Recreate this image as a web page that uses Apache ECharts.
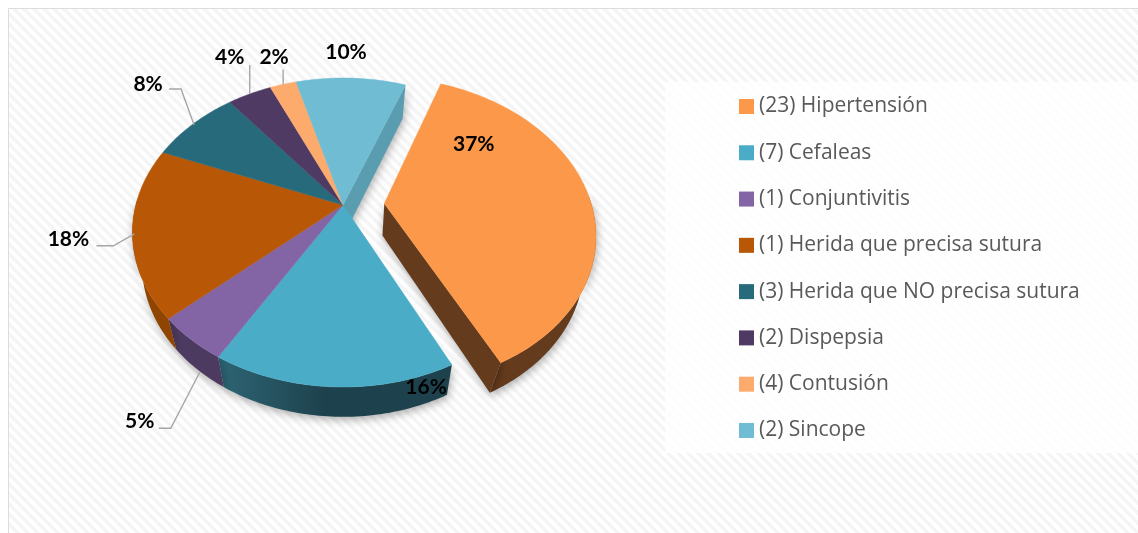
<!DOCTYPE html>
<html><head><meta charset="utf-8">
<style>html,body{margin:0;padding:0;background:#fff}#c{width:1138px;height:533px}</style>
<script src="https://cdn.jsdelivr.net/npm/echarts@6/dist/echarts.min.js"></script>
</head><body><div id="c"></div>
<script>
// ---- data ----
const categories = ['(23) Hipertensión','(7) Cefaleas','(1) Conjuntivitis','(1) Herida que precisa sutura','(3) Herida que NO precisa sutura','(2) Dispepsia','(4) Contusión','(2) Sincope'];
const shares = [37, 15.8, 4.8, 17.8, 8.2, 4, 2.4, 10];
const labels = ['37%','16%','5%','18%','8%','4%','2%','10%'];
const colors = ['#fb9849','#4aacc7','#8364a5','#b85706','#276a7c','#4f3a63','#fdaa6d','#6fbcd3'];
const wallColors = ['#653b1d',['#2d6575','#1e424d'],'#4d3a60','#8f4500',null,null,null,'#5a9db0'];
const exploded = [0.2,0,0,0,0,0,0,0];

// ---- layout ----
const startAngle = 20.6;
const view = {x0:343, y0:205, A:207.2, B:149.6, k:0.178};
const labelOffset = [[-115,-52],[93,0],[-51,82],[-64,7],[-45,-40],[-20,-37],[-9,-27],[-5,-26]];
const leaderOffset = [null,null,[[9,33],[-20,89],[-32,89]],[[2,2],[-19,14],[-36,14]],[[1,1],[-12,-35],[-24,-35]],[[0,0],[0,-29]],[[0,0],[0,-15]],null];

const rad = d => d*Math.PI/180;
function project(theta, r, ex, mid){
  let u = r*Math.sin(rad(theta)) + ex*Math.sin(rad(mid));
  let v = -r*Math.cos(rad(theta)) - ex*Math.cos(rad(mid));
  const w = 1 - view.k*v;
  return [view.x0 + view.A*u/w, view.y0 + view.B*v/w];
}
function lower(p, ex){
  const pull = ex ? 4*Math.max(0,p[1]-view.y0)/160 : 0;
  return [view.x0 + 0.955*(p[0]-view.x0) - pull, p[1] + 32 - 0.012*(p[1]-view.y0)];
}
const total = shares.reduce((a,b)=>a+b,0);
let acc = startAngle;
const spans = shares.map(s=>{const a=acc; acc+=s/total*360; return [a,acc];});
function rim(i, frontOnly){
  const [a,b]=spans[i], m=(a+b)/2, pts=[];
  const n=Math.ceil(b-a);
  for(let j=0;j<=n;j++){
    const t=a+(b-a)*j/n;
    if(frontOnly && -Math.cos(rad(t))<-0.05) continue;
    pts.push(project(t,1,exploded[i],m));
  }
  return pts;
}
function apex(i){const m=(spans[i][0]+spans[i][1])/2; return project(0,0,exploded[i],m);}
function fillOf(c){
  return Array.isArray(c)?{type:'linear',x:0,y:0,x2:1,y2:0,colorStops:[{offset:0,color:c[0]},{offset:0.45,color:c[1]},{offset:1,color:c[1]}]}:c;
}
const shadow={shadowBlur:8,shadowColor:'rgba(0,0,0,0.32)',shadowOffsetY:3,shadowOffsetX:1};

function renderWall(params,api){
  const kids=[];
  shares.forEach((_,i)=>{
    if(!wallColors[i]) return;
    const ex=exploded[i], r=rim(i,true), full=rim(i,false), ap=apex(i), fill=fillOf(wallColors[i]);
    if(r.length>1) kids.push({type:'polygon',shape:{points:r.concat(r.slice().reverse().map(p=>lower(p,ex)))},style:Object.assign({fill},shadow)});
    const e=spans[i][1]%360;
    if(e>0&&e<180){
      const p=full[full.length-1];
      kids.push({type:'polygon',shape:{points:[ap,p,lower(p,ex),lower(ap,ex)]},style:Object.assign({fill},shadow)});
    }
  });
  return {type:'group',children:kids};
}
function renderTop(i){
  return function(){
    return {type:'polygon',shape:{points:[apex(i)].concat(rim(i,false))},style:{fill:colors[i],stroke:colors[i],lineWidth:0.5}};
  };
}
function renderLabel(params){
  const i=params.dataIndex, m=(spans[i][0]+spans[i][1])/2, p=project(m,1,exploded[i],m), kids=[];
  if(leaderOffset[i]) kids.push({type:'polyline',shape:{points:leaderOffset[i].map(o=>[p[0]+o[0],p[1]+o[1]])},style:{fill:null,stroke:'#a6a6a6',lineWidth:1.4}});
  kids.push({type:'text',style:{x:p[0]+labelOffset[i][0],y:p[1]+labelOffset[i][1],text:labels[i],fill:'#000',font:'bold 21px Lato',align:'center',verticalAlign:'middle'}});
  return {type:'group',children:kids};
}

// hatched chart background
const tile=document.createElement('canvas'); tile.width=tile.height=10;
const g=tile.getContext('2d'); g.fillStyle='#fff'; g.fillRect(0,0,10,10);
g.strokeStyle='#f5f5f5'; g.lineWidth=3.6; g.lineCap='square';
[[-10,-5,5,10],[-5,-10,10,5]].forEach(l=>{g.beginPath();g.moveTo(l[0],l[1]);g.lineTo(l[2],l[3]);g.stroke();});

const series=[{type:'custom',name:'walls',coordinateSystem:'none',silent:true,z:1,renderItem:renderWall,data:[[0]]}];
categories.forEach((name,i)=>series.push({type:'custom',name,coordinateSystem:'none',silent:true,z:2,itemStyle:{color:colors[i]},renderItem:renderTop(i),data:[spans[i]]}));
series.push({type:'custom',name:'labels',coordinateSystem:'none',silent:true,z:3,renderItem:renderLabel,data:shares.map((v,i)=>[v,i])});

const chart=echarts.init(document.getElementById('c'),null,{renderer:'canvas'});
chart.setOption({
  animation:false,
  graphic:{elements:[
    {type:'rect',z:-10,silent:true,shape:{x:8.5,y:8.5,width:1160,height:560},style:{fill:{image:tile,repeat:'repeat'},stroke:'#dcdcdc',lineWidth:1}},
    {type:'rect',z:-9,silent:true,shape:{x:665,y:82,width:473,height:371},style:{fill:'rgba(255,255,255,0.75)'}}
  ]},
  legend:{orient:'vertical',left:739,top:96,padding:0,icon:'rect',itemWidth:15,itemHeight:15,itemGap:25.28,selectedMode:false,
    data:categories,textStyle:{color:'#595959',fontFamily:'Open Sans',fontSize:21,padding:[0,0,0,0],lineHeight:20.3}},
  series
});
</script></body></html>
